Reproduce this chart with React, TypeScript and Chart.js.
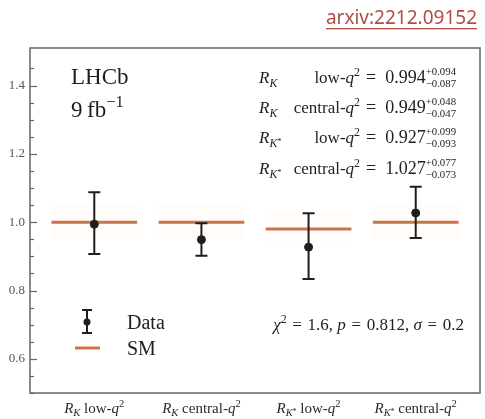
import { useEffect, useRef } from 'react';
import { Chart, registerables } from 'chart.js';

Chart.register(...registerables);

const SERIF = '"Liberation Serif", "Times New Roman", serif';

// LHCb lepton-universality ratios (9 fb^-1)
const ratioNames = ['K', 'K', 'K*', 'K*'];
const binNames = ['low', 'central', 'low', 'central'];
const measured = [0.994, 0.949, 0.927, 1.027];
const errUp = [0.094, 0.048, 0.099, 0.077];
const errDown = [0.087, 0.047, 0.093, 0.073];
const smValues = [1.0, 1.0, 0.98, 1.0];
const smBand = 0.05;
const yMajorTicks = [0.6, 0.8, 1.0, 1.2, 1.4];

const fitSummary = { chi2: '1.6', p: '0.812', sigma: '0.2' };
const experiment = 'LHCb';
const luminosity = '9';
const reference = 'arxiv:2212.09152';

const SM_COLOR = '#c8754b';
const INK = '#1e1e1e';
const EQ = '\u2004=\u2004';

type Seg = { t: string; it?: boolean; s?: number; dy?: number; stack?: [string, string] };

const segFont = (size: number, g: Seg) => `${g.it ? 'italic ' : ''}${size}px ${SERIF}`;

function segWidth(ctx: CanvasRenderingContext2D, g: Seg, size: number) {
  const fs = size * (g.s ?? 1);
  ctx.font = segFont(fs, g);
  if (g.stack) return Math.max(ctx.measureText(g.stack[0]).width, ctx.measureText(g.stack[1]).width);
  return ctx.measureText(g.t).width;
}

function drawRich(
  ctx: CanvasRenderingContext2D,
  segs: Seg[],
  x: number,
  y: number,
  size: number,
  align: 'left' | 'right' | 'center',
  color = INK
) {
  const w = segs.reduce((a, g) => a + segWidth(ctx, g, size), 0);
  let cx = align === 'left' ? x : align === 'right' ? x - w : x - w / 2;
  ctx.save();
  ctx.fillStyle = color;
  ctx.textAlign = 'left';
  ctx.textBaseline = 'alphabetic';
  for (const g of segs) {
    const fs = size * (g.s ?? 1);
    ctx.font = segFont(fs, g);
    if (g.stack) {
      ctx.fillText(g.stack[0], cx, y - size * 0.42);
      ctx.fillText(g.stack[1], cx, y + size * 0.22);
    } else {
      ctx.fillText(g.t, cx, y + (g.dy ?? 0) * size);
    }
    cx += segWidth(ctx, g, size);
  }
  ctx.restore();
  return w;
}

const sub = (t: string): Seg => ({ t, it: true, s: 0.7, dy: 0.22 });
const sup = (t: string): Seg => ({ t, s: 0.7, dy: -0.4 });
const ratioSegs = (k: string): Seg[] =>
  k === 'K*'
    ? [{ t: 'R', it: true }, sub('K'), { t: '*', s: 0.5, dy: 0.05 }]
    : [{ t: 'R', it: true }, sub('K')];
const binSegs = (b: string): Seg[] => [{ t: `${b}-` }, { t: 'q', it: true }, sup('2')];

const overlay = {
  id: 'overlay',
  beforeDatasetsDraw(chart: any) {
    const { ctx, scales } = chart;
    const x = scales.x;
    const y = scales.y;
    ctx.save();
    ctx.fillStyle = 'rgba(255, 170, 100, 0.035)';
    smValues.forEach((v, i) => {
      const x0 = x.getPixelForValue(i - 0.4);
      const x1 = x.getPixelForValue(i + 0.4);
      const y0 = y.getPixelForValue(v + smBand);
      const y1 = y.getPixelForValue(v - smBand);
      ctx.fillRect(x0, y0, x1 - x0, y1 - y0);
    });
    ctx.restore();
  },
  afterDatasetDraw(chart: any, args: any) {
    if (args.index !== 1) return;
    const { ctx, scales } = chart;
    const x = scales.x;
    const y = scales.y;
    ctx.save();
    ctx.strokeStyle = INK;
    ctx.lineWidth = 2;
    measured.forEach((v, i) => {
      const px = x.getPixelForValue(i);
      const top = y.getPixelForValue(v + errUp[i]);
      const bot = y.getPixelForValue(v - errDown[i]);
      ctx.beginPath();
      ctx.moveTo(px, top);
      ctx.lineTo(px, bot);
      ctx.moveTo(px - 6, top);
      ctx.lineTo(px + 6, top);
      ctx.moveTo(px - 6, bot);
      ctx.lineTo(px + 6, bot);
      ctx.stroke();
    });
    ctx.restore();
  },
  afterDraw(chart: any) {
    const { ctx, chartArea: a, scales } = chart;
    const x = scales.x;
    const y = scales.y;

    // frame
    ctx.save();
    ctx.strokeStyle = '#6e6e6e';
    ctx.lineWidth = 1.6;
    ctx.strokeRect(a.left, a.top, a.right - a.left, a.bottom - a.top);

    // inward ticks on the left spine
    ctx.strokeStyle = '#666';
    ctx.lineWidth = 1.2;
    for (const t of y.ticks) {
      const v = t.value;
      if (Math.abs(v * 20 - Math.round(v * 20)) > 1e-6) continue;
      const major = yMajorTicks.some((m) => Math.abs(m - v) < 1e-6);
      const py = Math.round(y.getPixelForValue(v)) + 0.5;
      ctx.beginPath();
      ctx.moveTo(a.left, py);
      ctx.lineTo(a.left + (major ? 7 : 4), py);
      ctx.stroke();
    }
    ctx.restore();

    // category labels
    ratioNames.forEach((k, i) => {
      const px = x.getPixelForValue(i);
      drawRich(ctx, [...ratioSegs(k), { t: ' ' }, ...binSegs(binNames[i])], px, 413, 15, 'center', '#2a2a2a');
    });

    // experiment tag
    drawRich(ctx, [{ t: experiment }], 71, 84, 23, 'left');
    drawRich(ctx, [{ t: `${luminosity}\u2009fb` }, { t: '\u22121', s: 0.72, dy: -0.42 }], 71, 117, 23, 'left');

    // measured values
    const rows = [83, 113, 143, 174];
    measured.forEach((v, i) => {
      const by = rows[i];
      drawRich(ctx, ratioSegs(ratioNames[i]), 259, by, 17, 'left');
      drawRich(ctx, binSegs(binNames[i]), 360, by, 17, 'right');
      drawRich(
        ctx,
        [
          { t: `=\u2002${v.toFixed(3)}` },
          { t: '', s: 0.6, stack: [`+${errUp[i].toFixed(3)}`, `\u2212${errDown[i].toFixed(3)}`] },
        ],
        366,
        by,
        18,
        'left'
      );
    });

    // fit summary
    drawRich(
      ctx,
      [
        { t: '\u03c7', it: true },
        sup('2'),
        { t: `${EQ}${fitSummary.chi2}, ` },
        { t: 'p', it: true },
        { t: `${EQ}${fitSummary.p}, ` },
        { t: '\u03c3', it: true },
        { t: `${EQ}${fitSummary.sigma}` },
      ],
      464,
      330,
      17,
      'right'
    );

    // legend
    ctx.save();
    ctx.strokeStyle = INK;
    ctx.lineWidth = 2;
    ctx.beginPath();
    ctx.moveTo(87, 310);
    ctx.lineTo(87, 333);
    ctx.moveTo(82, 310);
    ctx.lineTo(92, 310);
    ctx.moveTo(82, 333);
    ctx.lineTo(92, 333);
    ctx.stroke();
    ctx.fillStyle = INK;
    ctx.beginPath();
    ctx.arc(87, 322, 3.5, 0, Math.PI * 2);
    ctx.fill();
    ctx.strokeStyle = SM_COLOR;
    ctx.lineWidth = 3;
    ctx.beginPath();
    ctx.moveTo(75, 348);
    ctx.lineTo(100, 348);
    ctx.stroke();
    ctx.restore();
    drawRich(ctx, [{ t: 'Data' }], 127, 329, 20, 'left');
    drawRich(ctx, [{ t: 'SM' }], 127, 355, 20, 'left');

    // reference link
    ctx.save();
    ctx.font = '19px "Noto Sans", "Open Sans", sans-serif';
    ctx.fillStyle = '#b24c47';
    ctx.textAlign = 'right';
    ctx.textBaseline = 'alphabetic';
    ctx.fillText(reference, 477, 24);
    const w = ctx.measureText(reference).width;
    ctx.fillRect(477 - w, 28, w, 1.3);
    ctx.restore();
  },
};

export default function App() {
  const ref = useRef<HTMLCanvasElement | null>(null);

  useEffect(() => {
    if (!ref.current) return;
    const smPoints: { x: number; y: number | null }[] = [];
    smValues.forEach((v, i) => {
      smPoints.push({ x: i - 0.4, y: v }, { x: i + 0.4, y: v }, { x: i + 0.5, y: null });
    });
    const chart = new Chart(ref.current, {
      type: 'scatter',
      data: {
        datasets: [
          {
            label: 'Data',
            data: measured.map((v, i) => ({ x: i, y: v })),
            backgroundColor: INK,
            borderColor: INK,
            pointRadius: 4,
            pointHoverRadius: 4,
          },
          {
            label: 'SM',
            type: 'line',
            data: smPoints as any,
            borderColor: SM_COLOR,
            borderWidth: 3,
            pointRadius: 0,
            spanGaps: false,
            fill: false,
          },
        ],
      },
      options: {
        responsive: false,
        animation: false,
        layout: { padding: { top: 48, right: 5, left: 0, bottom: 0 } },
        plugins: { legend: { display: false }, tooltip: { enabled: false } },
        scales: {
          x: {
            type: 'linear',
            min: -0.6,
            max: 3.6,
            grid: { display: false },
            border: { display: false },
            ticks: { display: false },
            afterFit: (s: any) => {
              s.height = 26;
            },
          },
          y: {
            type: 'linear',
            min: 0.5,
            max: 1.51,
            grid: { display: false, drawTicks: false },
            border: { display: false },
            ticks: {
              stepSize: 0.05,
              autoSkip: false,
              padding: 5,
              color: '#555',
              font: { family: SERIF, size: 13 },
              callback: (v: any) => {
                const n = Number(v);
                return yMajorTicks.some((m) => Math.abs(m - n) < 1e-6) ? n.toFixed(1) : '';
              },
            },
            afterFit: (s: any) => {
              s.width = 30;
            },
          },
        },
      },
      plugins: [overlay],
    });
    return () => chart.destroy();
  }, []);

  return (
    <div style={{ position: 'fixed', left: 0, top: 0, width: 485, height: 419, background: '#fff' }}>
      <canvas ref={ref} width={485} height={419} style={{ display: 'block' }} />
    </div>
  );
}
